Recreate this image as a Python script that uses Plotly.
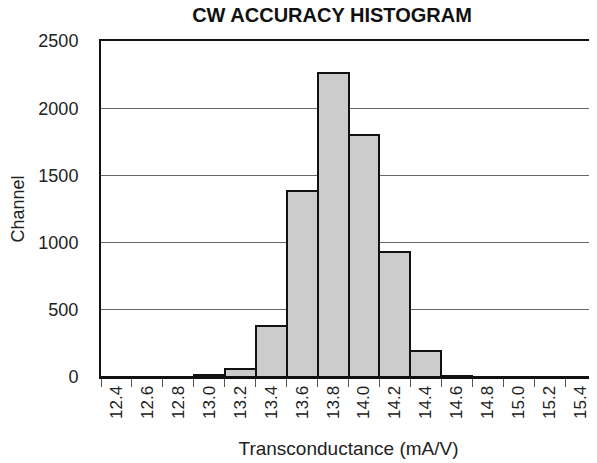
import plotly.graph_objects as go

categories = ["12.4", "12.6", "12.8", "13.0", "13.2", "13.4", "13.6", "13.8",
              "14.0", "14.2", "14.4", "14.6", "14.8", "15.0", "15.2", "15.4"]
counts = [0, 0, 0, 12, 60, 380, 1385, 2262, 1800, 928, 192, 8, 0, 0, 0, 0]
y_ticks = [0, 500, 1000, 1500, 2000, 2500]

FONT = "Liberation Sans, Arial, sans-serif"

# page body has an 8px default margin; size the figure so it lands on the 597x463 window
W, H = 589, 455

fig = go.Figure(go.Bar(
    x=categories, y=counts,
    marker=dict(color="#cccccc", line=dict(color="#111111", width=2)),
))

fig.update_layout(
    width=W, height=H,
    margin=dict(l=93, r=1, t=33, b=86, autoexpand=False),
    paper_bgcolor="white", plot_bgcolor="white",
    bargap=0,
    showlegend=False,
    font=dict(family=FONT, color="#222222", size=17),
    title=dict(text="<b>CW ACCURACY HISTOGRAM</b>", xref="container",
               x=(332 - 8) / W, xanchor="center", yref="container",
               y=1 - 7 / H, yanchor="middle",
               font=dict(size=20, color="#111111")),
)
fig.update_xaxes(
    type="category", tickangle=-90, tickson="boundaries",
    ticks="outside", ticklen=8, tickcolor="#555555", tickwidth=1,
    showline=True, linecolor="#111111", linewidth=2, mirror=True,
    showgrid=False, automargin=False,
    tickfont=dict(size=17),
    title=dict(text="Transconductance (mA/V)", font=dict(size=19), standoff=24),
)
fig.update_yaxes(
    range=[0, 2500], tickvals=y_ticks,
    showline=True, linecolor="#111111", linewidth=2, mirror=True,
    showgrid=True, gridcolor="#666666", gridwidth=1,
    ticks="", ticklabelstandoff=17, zeroline=False, automargin=False,
    tickfont=dict(size=18),
    title=dict(text="Channel", font=dict(size=18), standoff=17),
)

fig.write_html("out.html")
